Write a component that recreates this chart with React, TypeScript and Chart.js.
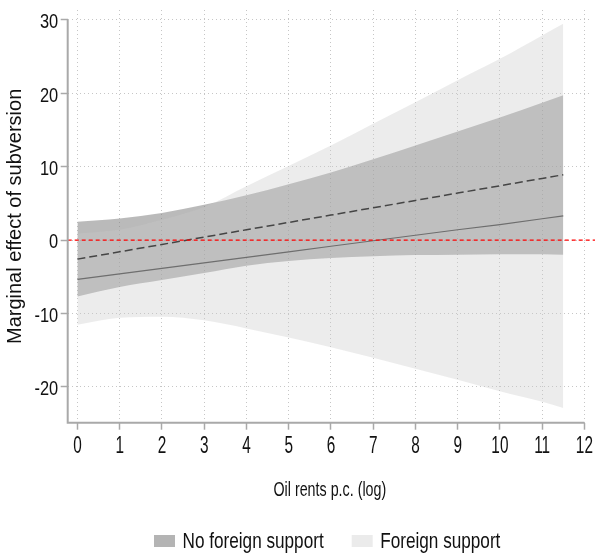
import React, { useEffect, useRef } from "react";
import { Chart, registerables } from "chart.js";

Chart.register(...registerables);

// ---- data ----
const xValues = [0, 1, 2, 3, 4, 5, 6, 7, 8, 9, 10, 11, 11.5];

// No foreign support (dashed estimate, dark band)
const noSupportEstimate = [-2.6, -1.6, -0.6, 0.4, 1.4, 2.4, 3.4, 4.4, 5.4, 6.4, 7.4, 8.4, 8.9];
const noSupportUpper = [2.5, 2.95, 3.7, 4.8, 6.1, 7.6, 9.2, 11.0, 12.9, 14.8, 16.7, 18.7, 19.75];
const noSupportLower = [-7.7, -6.4, -5.45, -4.5, -3.5, -2.85, -2.45, -2.2, -2.05, -2.0, -1.95, -1.95, -2.0];

// Foreign support (solid estimate, light band)
const supportEstimate = [-5.35, -4.6, -3.85, -3.1, -2.35, -1.6, -0.85, -0.1, 0.65, 1.4, 2.1, 2.9, 3.3];
const supportUpper = [0.9, 1.4, 2.75, 4.5, 7.35, 10.1, 12.9, 15.85, 18.8, 21.8, 24.7, 27.9, 29.5];
const supportLower = [-11.55, -10.6, -10.45, -10.95, -12.05, -13.3, -14.6, -16.05, -17.55, -19.05, -20.6, -22.05, -22.9];

const xTicks = [0, 1, 2, 3, 4, 5, 6, 7, 8, 9, 10, 11, 12];
const yTicks = [-20, -10, 0, 10, 20, 30];
const seriesLabels = ["No foreign support", "Foreign support"];
const xTitle = "Oil rents p.c. (log)";
const yTitle = "Marginal effect of subversion";

// ---- styles ----
const FONT = "'Liberation Sans', Arial, sans-serif";
const DARK_FILL = "rgba(120,120,120,0.51)";
const LIGHT_FILL = "rgba(200,200,200,0.35)";
const LEGEND_SWATCH = ["#b4b4b4", "#ebebeb"];
const AXIS_COLOR = "#a9a9a9";
const GRID_COLOR = "#c6c6c6";
const TEXT_COLOR = "#111";

const toPts = (ys: number[]) => xValues.map((x, i) => ({ x, y: ys[i] }));

// condensed text helper (the reference uses a narrow face)
function condensedText(
  ctx: CanvasRenderingContext2D,
  text: string,
  x: number,
  y: number,
  size: number,
  sx: number,
  align: CanvasTextAlign
) {
  ctx.save();
  ctx.translate(x, y);
  ctx.scale(sx, 1);
  ctx.font = `${size}px ${FONT}`;
  ctx.textAlign = align;
  ctx.textBaseline = "alphabetic";
  ctx.fillStyle = TEXT_COLOR;
  ctx.fillText(text, 0, 0);
  const w = ctx.measureText(text).width * sx;
  ctx.restore();
  return w;
}

const decorPlugin = {
  id: "decor",
  afterDatasetsDraw(chart: any) {
    const { ctx, chartArea, scales } = chart;
    const y0 = scales.y.getPixelForValue(0);
    ctx.save();
    ctx.strokeStyle = "#ff0000";
    ctx.lineWidth = 1.2;
    ctx.setLineDash([4, 3]);
    ctx.beginPath();
    ctx.moveTo(chartArea.left, y0);
    ctx.lineTo(chart.width, y0);
    ctx.stroke();
    ctx.restore();
  },
  afterDraw(chart: any) {
    const { ctx, chartArea, scales } = chart;
    ctx.save();
    // axis lines
    ctx.strokeStyle = AXIS_COLOR;
    ctx.lineWidth = 2;
    ctx.setLineDash([]);
    ctx.beginPath();
    ctx.moveTo(chartArea.left, scales.y.getPixelForValue(yTicks[yTicks.length - 1]));
    ctx.lineTo(chartArea.left, chartArea.bottom);
    ctx.lineTo(scales.x.getPixelForValue(xTicks[xTicks.length - 1]), chartArea.bottom);
    ctx.stroke();
    ctx.restore();

    // y tick labels
    yTicks.forEach((v) => {
      const py = scales.y.getPixelForValue(v);
      condensedText(ctx, String(v), chartArea.left - 9.5, py + 8.2, 20, 0.82, "right");
    });
    // x tick labels
    xTicks.forEach((v) => {
      const px = scales.x.getPixelForValue(v);
      condensedText(ctx, String(v), px, chartArea.bottom + 30.5, 24, 0.64, "center");
    });
    // x title
    condensedText(
      ctx,
      xTitle,
      (chartArea.left + chartArea.right) / 2,
      chartArea.bottom + 73.5,
      21,
      0.68,
      "center"
    );

    // legend
    let cx = 154;
    const baseline = 548;
    seriesLabels.forEach((label, i) => {
      ctx.save();
      ctx.fillStyle = LEGEND_SWATCH[i];
      ctx.fillRect(cx, 535, 21, 12);
      ctx.restore();
      cx += 21 + 7.5;
      const w = condensedText(ctx, label, cx, baseline, 22, 0.78, "left");
      cx += w + 28;
    });
  },
};

export default function App() {
  const ref = useRef<HTMLCanvasElement | null>(null);

  useEffect(() => {
    if (!ref.current) return;
    const lineBand = (data: number[], fill: any, bg: string) => ({
      type: "line" as const,
      data: toPts(data),
      borderColor: "transparent",
      borderWidth: 0,
      pointRadius: 0,
      backgroundColor: bg,
      fill,
      cubicInterpolationMode: "monotone" as const,
    });
    const gridOpts = {
      color: GRID_COLOR,
      lineWidth: 1,
      drawTicks: true,
      tickLength: 7,
      tickColor: AXIS_COLOR,
      tickWidth: 1.5,
    };
    const chart = new Chart(ref.current, {
      type: "line",
      data: {
        datasets: [
          {
            label: seriesLabels[1] + " estimate",
            data: toPts(supportEstimate),
            borderColor: "#6e6e6e",
            borderWidth: 1.2,
            pointRadius: 0,
            fill: false,
          },
          {
            label: seriesLabels[0] + " estimate",
            data: toPts(noSupportEstimate),
            borderColor: "#454545",
            borderWidth: 1.5,
            borderDash: [8, 4],
            pointRadius: 0,
            fill: false,
          },
          { label: seriesLabels[1] + " upper", ...lineBand(supportUpper, "+1", LIGHT_FILL) },
          { label: seriesLabels[1] + " lower", ...lineBand(supportLower, false, LIGHT_FILL) },
          { label: seriesLabels[0] + " upper", ...lineBand(noSupportUpper, "+1", DARK_FILL) },
          { label: seriesLabels[0] + " lower", ...lineBand(noSupportLower, false, DARK_FILL) },
        ] as any,
      },
      options: {
        animation: false,
        responsive: true,
        maintainAspectRatio: false,
        layout: { padding: { top: 10, right: 3, left: 0, bottom: 0 } },
        plugins: {
          legend: { display: false },
          tooltip: { enabled: false },
        },
        scales: {
          x: {
            type: "linear",
            min: -0.23,
            max: 12.18,
            afterBuildTicks: (s: any) => {
              s.ticks = xTicks.map((v) => ({ value: v }));
            },
            afterFit: (s: any) => {
              s.height = 133.3;
              s.paddingLeft = 0;
              s.paddingRight = 0;
            },
            ticks: { display: false, autoSkip: false, maxRotation: 0 },
            grid: gridOpts,
            border: { display: false, dash: [1, 3] },
            title: { display: false },
          },
          y: {
            type: "linear",
            min: -24.9,
            max: 31.36,
            afterBuildTicks: (s: any) => {
              s.ticks = yTicks.map((v) => ({ value: v }));
            },
            afterFit: (s: any) => {
              s.width = 67.7;
              s.paddingTop = 0;
              s.paddingBottom = 0;
            },
            ticks: { display: false },
            grid: gridOpts,
            border: { display: false, dash: [1, 3] },
            title: {
              display: true,
              text: yTitle,
              color: TEXT_COLOR,
              font: { family: FONT, size: 20 },
              padding: { top: 3, bottom: 0 },
            },
          },
        },
      },
      plugins: [decorPlugin],
    });
    return () => chart.destroy();
  }, []);

  return (
    <div style={{ position: "absolute", left: 0, top: 0, width: 595, height: 556 }}>
      <canvas ref={ref} />
    </div>
  );
}
